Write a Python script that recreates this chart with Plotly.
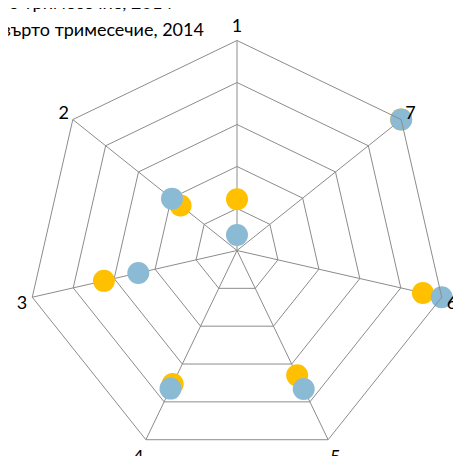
import plotly.graph_objects as go

categories = ['1', '2', '3', '4', '5', '6', '7']
series_names = ['Трето тримесечие, 2014', 'Четвърто тримесечие, 2014']
q3_2014 = [1.22, 1.72, 3.25, 3.53, 3.30, 4.54, 5.0]
q4_2014 = [0.37, 1.98, 2.41, 3.65, 3.66, 5.0, 5.0]
colors = ['#FFC000', '#8BBAD5']

fig = go.Figure()
for name, vals, col in zip(series_names, [q3_2014, q4_2014], colors):
    fig.add_trace(go.Scatterpolar(
        r=vals, theta=categories, mode='markers', name=name,
        marker=dict(size=22, color=col, line=dict(width=0)),
    ))

fig.update_layout(
    width=461, height=456,
    margin=dict(l=18.5, r=21.5, t=32, b=3, autoexpand=False),
    paper_bgcolor='white',
    font=dict(family='Lato, sans-serif', size=18, color='black'),
    showlegend=True,
    legend=dict(x=-0.2265, y=1.1325, xanchor='left', yanchor='top',
                traceorder='normal',
                font=dict(family='Lato, sans-serif', size=18, color='black'),
                bgcolor='rgba(0,0,0,0)'),
    polar=dict(
        bgcolor='white',
        gridshape='linear',
        domain=dict(x=[0, 1], y=[0, 1]),
        radialaxis=dict(range=[0, 5], dtick=1, showticklabels=False, ticks='',
                        showline=False, gridcolor='#8c8c8c', gridwidth=1),
        angularaxis=dict(direction='counterclockwise', rotation=90, type='category',
                         categoryarray=categories,
                         showline=True, linecolor='#8c8c8c', linewidth=1,
                         gridcolor='#8c8c8c', gridwidth=1,
                         ticks='outside', ticklen=1, tickcolor='rgba(0,0,0,0)',
                         tickfont=dict(family='Lato, sans-serif', size=18, color='black')),
    ),
)

fig.write_html('out.html')
